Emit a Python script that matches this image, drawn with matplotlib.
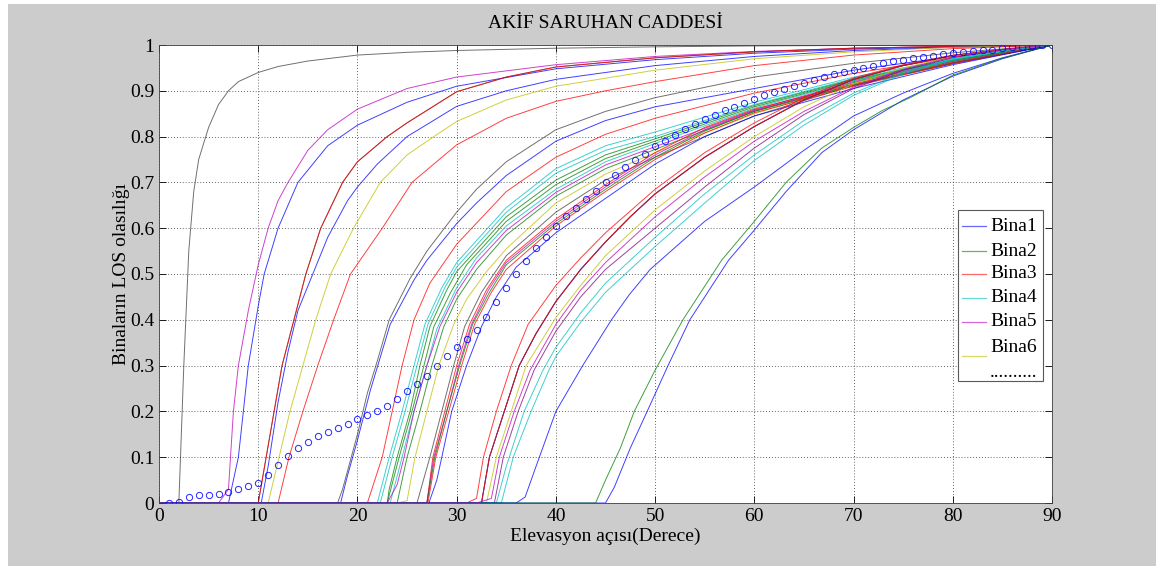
import numpy as np
import matplotlib.pyplot as plt
from matplotlib.patches import Rectangle

plt.rcParams['font.family'] = ['Liberation Serif', 'DejaVu Serif']

# matlab style line colours
cb = (0, 0, 1)
cg = (0, 0.5, 0)
cr = (1, 0, 0)
cc = (0, 0.75, 0.75)
cm = (0.75, 0, 0.75)
cy = (0.75, 0.75, 0)
ck = (0.25, 0.25, 0.25)
cp = (0.5, 0, 0.5)

# --- early curves (start below 15 deg)
a1_x = [0, 2, 2.5, 3, 3.5, 4, 5, 6, 7, 8, 10, 12, 15, 20, 25, 30, 40, 50, 60, 70, 90]
a1_y = [0, 0, 0.3, 0.55, 0.68, 0.75, 0.82, 0.87, 0.9, 0.92, 0.94, 0.953, 0.965, 0.978, 0.984, 0.988, 0.993, 0.996, 0.998, 0.999, 1]
a2_x = [0, 6, 7, 7.5, 8, 9, 10, 11, 12, 13, 15, 17, 20, 25, 30, 40, 50, 60, 70, 80, 90]
a2_y = [0, 0, 0.03, 0.2, 0.3, 0.42, 0.52, 0.6, 0.66, 0.7, 0.77, 0.815, 0.86, 0.905, 0.93, 0.957, 0.975, 0.986, 0.993, 0.997, 1]
a3_x = [0, 7, 8, 9, 10, 10.6, 12, 14, 17, 20, 25, 30, 40, 50, 60, 70, 80, 90]
a3_y = [0, 0, 0.1, 0.3, 0.43, 0.5, 0.6, 0.7, 0.78, 0.825, 0.875, 0.91, 0.948, 0.968, 0.982, 0.991, 0.996, 1]
a4_x = [0, 10, 10.8, 11.6, 12.4, 13.6, 14.8, 16.3, 18.5, 20, 23, 25, 30, 35, 40, 50, 60, 70, 80, 90]
a4_y = [0, 0, 0.1, 0.2, 0.3, 0.4, 0.5, 0.6, 0.7, 0.745, 0.8, 0.83, 0.898, 0.93, 0.952, 0.972, 0.985, 0.993, 0.997, 1]
a5_x = [0, 10.3, 11, 12, 13, 14, 15.5, 17, 19, 20, 22, 25, 30, 35, 40, 50, 60, 70, 80, 90]
a5_y = [0, 0, 0.08, 0.22, 0.33, 0.42, 0.5, 0.58, 0.66, 0.69, 0.74, 0.8, 0.866, 0.9, 0.925, 0.955, 0.975, 0.988, 0.995, 1]
a6_x = [0, 11, 12.1, 13.2, 14.5, 15.8, 17.3, 19.6, 22.3, 25, 27.7, 30, 35, 40, 50, 60, 70, 80, 90]
a6_y = [0, 0, 0.1, 0.2, 0.3, 0.4, 0.5, 0.6, 0.7, 0.76, 0.8, 0.833, 0.88, 0.91, 0.945, 0.97, 0.985, 0.995, 1]
a7_x = [0, 12, 13.1, 14.5, 16, 17.6, 19.3, 22.5, 25.5, 30, 35, 40, 45, 50, 60, 70, 80, 90]
a7_y = [0, 0, 0.1, 0.2, 0.3, 0.4, 0.5, 0.6, 0.7, 0.782, 0.84, 0.877, 0.9, 0.92, 0.955, 0.978, 0.992, 1]

# --- curves starting near 18 deg
b1_x = [0, 18, 18.5, 19, 20, 21, 22, 23.2, 25.3, 27, 30, 32, 35, 40, 45, 50, 60, 70, 80, 90]
b1_y = [0, 0, 0.03, 0.07, 0.15, 0.24, 0.31, 0.4, 0.49, 0.55, 0.635, 0.685, 0.745, 0.815, 0.855, 0.885, 0.93, 0.96, 0.983, 1]
b2_x = [0, 18.3, 19, 20, 21.3, 23.3, 25.7, 27, 30, 32, 35, 40, 45, 50, 60, 70, 80, 90]
b2_y = [0, 0, 0.06, 0.137, 0.246, 0.39, 0.487, 0.53, 0.61, 0.655, 0.715, 0.79, 0.835, 0.865, 0.905, 0.945, 0.975, 1]

# --- cluster starting 21-28 deg
c1_x = [0, 21, 22.5, 23.5, 24.5, 25.7, 27.3, 30, 35, 40, 45, 50, 60, 70, 80, 90]
c1_y = [0, 0, 0.1, 0.2, 0.3, 0.4, 0.48, 0.565, 0.68, 0.755, 0.805, 0.84, 0.895, 0.938, 0.973, 1]
c2_x = [0, 22, 23.2, 24.5, 25.7, 26.8, 28.5, 30, 35, 40, 45, 50, 60, 70, 80, 90]
c2_y = [0, 0, 0.1, 0.2, 0.3, 0.39, 0.47, 0.525, 0.645, 0.73, 0.78, 0.81, 0.875, 0.93, 0.97, 1]
c3_x = [0, 22.3, 23.5, 24.8, 26, 27.1, 28.8, 30, 35, 40, 45, 50, 60, 70, 80, 90]
c3_y = [0, 0, 0.1, 0.2, 0.3, 0.39, 0.47, 0.515, 0.635, 0.72, 0.77, 0.8, 0.87, 0.927, 0.968, 1]
c4_x = [0, 23, 23.2, 24, 25.3, 26.3, 27.3, 29, 30, 35, 40, 45, 50, 60, 70, 80, 90]
c4_y = [0, 0, 0.03, 0.1, 0.2, 0.3, 0.385, 0.465, 0.505, 0.625, 0.705, 0.76, 0.795, 0.868, 0.925, 0.967, 1]
c5_x = [0, 23, 24.2, 25.5, 26.7, 27.7, 29.4, 31, 35, 40, 45, 50, 60, 70, 80, 90]
c5_y = [0, 0, 0.1, 0.2, 0.3, 0.385, 0.46, 0.52, 0.615, 0.695, 0.752, 0.79, 0.865, 0.923, 0.966, 1]
c6_x = [0, 23.3, 24.5, 25.7, 27, 28, 30, 32, 35, 40, 45, 50, 60, 70, 80, 90]
c6_y = [0, 0, 0.1, 0.2, 0.3, 0.38, 0.47, 0.535, 0.605, 0.685, 0.745, 0.785, 0.862, 0.922, 0.965, 1]
c7_x = [0, 23, 24, 24.7, 25.7, 27, 28.3, 30, 32, 35, 40, 45, 50, 60, 70, 80, 90]
c7_y = [0, 0, 0.04, 0.1, 0.2, 0.3, 0.385, 0.46, 0.525, 0.595, 0.678, 0.738, 0.778, 0.858, 0.92, 0.964, 1]
c8_x = [0, 24, 25, 26.3, 27.5, 28.7, 30, 32, 35, 40, 45, 50, 60, 70, 80, 90]
c8_y = [0, 0, 0.1, 0.2, 0.3, 0.385, 0.445, 0.51, 0.585, 0.67, 0.73, 0.772, 0.855, 0.918, 0.963, 1]
c9_x = [0, 24, 25, 25.8, 27, 28.2, 29.7, 31, 33, 35, 40, 45, 50, 60, 70, 80, 90]
c9_y = [0, 0, 0.005, 0.1, 0.2, 0.3, 0.39, 0.445, 0.505, 0.555, 0.655, 0.718, 0.765, 0.85, 0.915, 0.962, 1]
c10_x = [0, 26, 27.3, 28.5, 29.7, 30.8, 32.5, 35, 40, 45, 50, 60, 70, 80, 90]
c10_y = [0, 0, 0.1, 0.2, 0.3, 0.385, 0.46, 0.54, 0.635, 0.705, 0.755, 0.845, 0.912, 0.96, 1]
c11_x = [0, 27, 27.6, 28.8, 30, 31.3, 33, 35, 40, 45, 50, 55, 60, 70, 80, 90]
c11_y = [0, 0, 0.1, 0.2, 0.3, 0.39, 0.465, 0.53, 0.62, 0.695, 0.765, 0.82, 0.86, 0.915, 0.962, 1]
c12_x = [0, 27, 27.7, 29, 30.2, 31.5, 33.2, 35, 40, 45, 50, 55, 60, 70, 80, 90]
c12_y = [0, 0, 0.1, 0.2, 0.3, 0.39, 0.465, 0.525, 0.615, 0.69, 0.76, 0.815, 0.857, 0.913, 0.961, 1]
c13_x = [0, 27, 27.8, 29, 30.3, 31.6, 33.3, 35, 40, 45, 50, 55, 60, 70, 80, 90]
c13_y = [0, 0, 0.1, 0.2, 0.3, 0.39, 0.46, 0.52, 0.61, 0.685, 0.755, 0.812, 0.855, 0.912, 0.96, 1]
c14_x = [0, 27.1, 27.9, 29.2, 30.5, 31.8, 33.5, 35, 40, 45, 50, 55, 60, 70, 80, 90]
c14_y = [0, 0, 0.1, 0.2, 0.3, 0.39, 0.46, 0.51, 0.605, 0.68, 0.75, 0.808, 0.852, 0.91, 0.959, 1]
c15_x = [0, 27.2, 28, 29.5, 31, 32.5, 34, 36, 40, 45, 50, 55, 60, 70, 80, 90]
c15_y = [0, 0, 0.05, 0.2, 0.3, 0.385, 0.45, 0.515, 0.59, 0.665, 0.74, 0.8, 0.845, 0.905, 0.957, 1]

# --- cluster starting 31-36 deg
d0_x = [0, 31, 32, 32.7, 34, 35.5, 37.2, 40, 42.5, 45, 50, 55, 60, 65, 70, 75, 80, 85, 90]
d0_y = [0, 0, 0.01, 0.1, 0.2, 0.3, 0.39, 0.475, 0.535, 0.59, 0.685, 0.765, 0.83, 0.885, 0.928, 0.957, 0.978, 0.99, 1]
d1_x = [0, 32.5, 33.3, 34.8, 36.3, 38, 40, 42.5, 45, 47.5, 50, 55, 60, 65, 70, 75, 80, 85, 90]
d1_y = [0, 0, 0.1, 0.2, 0.3, 0.37, 0.44, 0.51, 0.57, 0.625, 0.675, 0.755, 0.822, 0.88, 0.925, 0.955, 0.977, 0.99, 1]
d2_x = [0, 33, 34, 35.5, 37, 39, 40, 42.5, 45, 50, 55, 60, 65, 70, 75, 80, 85, 90]
d2_y = [0, 0, 0.1, 0.2, 0.3, 0.37, 0.405, 0.475, 0.54, 0.64, 0.725, 0.8, 0.865, 0.915, 0.95, 0.975, 0.99, 1]
d3_x = [0, 32, 33.5, 34.3, 35.8, 37.4, 40, 42.5, 45, 50, 55, 60, 65, 70, 75, 80, 85, 90]
d3_y = [0, 0, 0.01, 0.1, 0.2, 0.29, 0.39, 0.465, 0.525, 0.625, 0.712, 0.79, 0.855, 0.908, 0.947, 0.974, 0.99, 1]
d4_x = [0, 33.8, 34.7, 36.2, 37.8, 40, 42.5, 45, 50, 55, 60, 65, 70, 75, 80, 85, 90]
d4_y = [0, 0, 0.1, 0.2, 0.29, 0.375, 0.45, 0.51, 0.6, 0.69, 0.775, 0.848, 0.905, 0.945, 0.972, 0.99, 1]
d5_x = [0, 34, 35, 36.8, 38.7, 40, 42.5, 45, 50, 55, 60, 65, 70, 75, 80, 85, 90]
d5_y = [0, 0, 0.08, 0.2, 0.29, 0.34, 0.415, 0.48, 0.58, 0.675, 0.76, 0.835, 0.895, 0.94, 0.97, 0.988, 1]
d6_x = [0, 34.5, 35.7, 37.5, 39.3, 40, 42.5, 45, 50, 55, 60, 65, 70, 75, 80, 85, 90]
d6_y = [0, 0, 0.1, 0.2, 0.29, 0.32, 0.395, 0.46, 0.56, 0.655, 0.748, 0.825, 0.89, 0.937, 0.968, 0.987, 1]
d7_x = [0, 36, 36.9, 38, 40, 42.7, 45.6, 47.4, 49.5, 55, 60, 65, 70, 75, 80, 85, 90]
d7_y = [0, 0, 0.013, 0.08, 0.2, 0.3, 0.4, 0.455, 0.51, 0.615, 0.69, 0.77, 0.845, 0.895, 0.938, 0.972, 1]

# --- late curves
e1_x = [0, 44, 45, 46.5, 47.9, 50, 52.8, 56.7, 60, 63.2, 66.8, 70, 72.9, 75.8, 80, 84.8, 90]
e1_y = [0, 0, 0.05, 0.12, 0.2, 0.29, 0.4, 0.53, 0.615, 0.7, 0.775, 0.82, 0.857, 0.886, 0.934, 0.97, 1]
e2_x = [0, 45, 45.9, 47.5, 49.2, 51.3, 53.5, 57.4, 60, 63.2, 66.8, 70, 75, 80, 85, 90]
e2_y = [0, 0, 0.035, 0.12, 0.2, 0.3, 0.4, 0.53, 0.596, 0.68, 0.765, 0.815, 0.88, 0.932, 0.97, 1]

# --- mean curve (circles), one per degree 1..90
mean_x = np.arange(1, 91)
mean_y = [0, 0.002, 0.013, 0.017, 0.018, 0.02, 0.023, 0.03, 0.037, 0.044,
          0.062, 0.083, 0.102, 0.12, 0.133, 0.146, 0.155, 0.163, 0.172, 0.183,
          0.192, 0.2, 0.212, 0.227, 0.245, 0.26, 0.277, 0.299, 0.321, 0.34,
          0.359, 0.377, 0.406, 0.439, 0.469, 0.5, 0.528, 0.556, 0.581, 0.604,
          0.626, 0.645, 0.664, 0.682, 0.7, 0.716, 0.733, 0.749, 0.763, 0.779,
          0.791, 0.804, 0.816, 0.827, 0.838, 0.847, 0.857, 0.865, 0.874, 0.883,
          0.89, 0.897, 0.904, 0.91, 0.916, 0.923, 0.931, 0.936, 0.941, 0.945,
          0.95, 0.955, 0.96, 0.964, 0.967, 0.971, 0.974, 0.977, 0.98, 0.982,
          0.984, 0.986, 0.988, 0.99, 0.993, 0.995, 0.996, 0.998, 1.0, 1.0]

legend_names = ['Bina1', 'Bina2', 'Bina3', 'Bina4', 'Bina5', 'Bina6', '..........']

# draw order matters for which colour shows along y=0
curves = [(a1_x, a1_y, ck), (a2_x, a2_y, cm), (a3_x, a3_y, cb),
          (a4_x, a4_y, ck), (a4_x, a4_y, cr), (a5_x, a5_y, cb),
          (a6_x, a6_y, cy), (a7_x, a7_y, cr),
          (b1_x, b1_y, ck), (b2_x, b2_y, cb),
          (c1_x, c1_y, cr), (c2_x, c2_y, cc), (c3_x, c3_y, cc), (c4_x, c4_y, cg),
          (c5_x, c5_y, cg), (c6_x, c6_y, cc), (c7_x, c7_y, cm), (c8_x, c8_y, cg),
          (c9_x, c9_y, cy), (c10_x, c10_y, ck), (c11_x, c11_y, cr), (c12_x, c12_y, cm),
          (c13_x, c13_y, cg), (c14_x, c14_y, cr), (c15_x, c15_y, cb),
          (d0_x, d0_y, cr), (d1_x, d1_y, cb), (d1_x, d1_y, ck), (d1_x, d1_y, cr),
          (d2_x, d2_y, cy), (d4_x, d4_y, cp), (d5_x, d5_y, cc),
          (d6_x, d6_y, cc), (d7_x, d7_y, cb),
          (e2_x, e2_y, cb), (e1_x, e1_y, cg), (d3_x, d3_y, cm)]

fig = plt.figure(figsize=(11.61, 5.70), dpi=100)
fig.patches.append(Rectangle((8 / 1161, 4 / 570), 1148 / 1161, 562 / 570,
                             transform=fig.transFigure, facecolor='#cccccc',
                             edgecolor='none', zorder=-10))
ax = fig.add_axes([159 / 1161, 67 / 570, 893 / 1161, 458 / 570])

for xs, ys, col in curves:
    ax.plot(xs, ys, color=col, lw=0.7, alpha=0.75)
ax.plot(mean_x, mean_y, 'o', ms=4.5, mfc='none', mec=cb, mew=0.7, alpha=0.85)

ax.set_xlim(0, 90)
ax.set_ylim(0, 1)
ax.set_xticks(np.arange(0, 91, 10))
ax.set_yticks(np.arange(0, 1.01, 0.1))
ax.set_yticklabels(['0', '0.1', '0.2', '0.3', '0.4', '0.5', '0.6', '0.7', '0.8', '0.9', '1'])
ax.tick_params(direction='in', top=True, right=True, length=5, labelsize=14, width=0.6)
ax.grid(True, color='0.2', linestyle=(0, (1, 2.5)), lw=0.6)
for s in ax.spines.values():
    s.set_linewidth(0.6)
    s.set_color('0.25')

ax.set_title('AKİF SARUHAN CADDESİ', fontsize=14, pad=12)
ax.set_xlabel('Elevasyon açısı(Derece)', fontsize=14, labelpad=2)
ax.set_ylabel('Binaların LOS olasılığı', fontsize=14, labelpad=0)

# hand made legend box, as in the original
ax.add_patch(Rectangle((0.8947, 0.2664), 0.0952, 0.3733, transform=ax.transAxes,
                       facecolor='white', edgecolor='0.35', lw=0.8, zorder=5))
leg_cols = [cb, cg, cr, cc, cm]
leg_y = [0.6048, 0.5502, 0.5, 0.4476, 0.3952, 0.3406, 0.286]
for i, col in enumerate(leg_cols):
    ax.plot([0.899, 0.926], [leg_y[i], leg_y[i]], color=col, lw=0.9, alpha=0.6,
            transform=ax.transAxes, zorder=6)
ax.plot([0.899, 0.926], [0.321, 0.321], color=cy, lw=0.9, alpha=0.6,
        transform=ax.transAxes, zorder=6)
for i, name in enumerate(legend_names):
    ax.text(0.9306, leg_y[i], name, transform=ax.transAxes, fontsize=14,
            va='center', ha='left', zorder=7)

plt.savefig('out.png', dpi=100)
